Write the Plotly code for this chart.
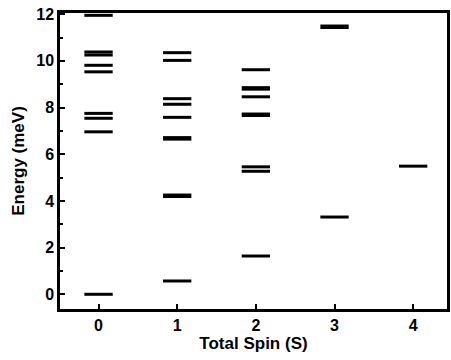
import plotly.graph_objects as go

spins = [0, 1, 2, 3, 4]
levels_s0 = [0.0, 6.96, 7.54, 7.75, 9.53, 9.81, 10.25, 10.38, 11.95]
levels_s1 = [0.57, 4.22, 6.68, 7.58, 8.14, 8.38, 10.02, 10.35]
levels_s2 = [1.64, 5.27, 5.46, 7.69, 8.46, 8.82, 9.62]
levels_s3 = [3.31, 11.46]
levels_s4 = [5.49]
all_levels = [levels_s0, levels_s1, levels_s2, levels_s3, levels_s4]
thick_levels = {(1, 4.22), (1, 6.68), (2, 7.69), (2, 8.82), (3, 11.46)}

half_w = 0.18
fig = go.Figure()
for s, lv in zip(spins, all_levels):
    for e in lv:
        w = 4.5 if (s, e) in thick_levels else 3
        fig.add_trace(go.Scatter(x=[s - half_w, s + half_w], y=[e, e], mode="lines",
                                 line=dict(color="black", width=w), showlegend=False,
                                 hoverinfo="skip"))

font = dict(family="Liberation Sans, Arial, sans-serif", size=16, color="black")
fig.update_layout(
    width=451, height=360, margin=dict(l=60, r=1, t=13, b=51),
    plot_bgcolor="white", paper_bgcolor="white", showlegend=False,
    font=font,
)
fig.update_xaxes(range=[-0.49, 4.43], tickvals=spins, ticktext=[f"<b>{s}</b>" for s in spins],
                 ticks="inside", ticklen=5, tickwidth=2, tickcolor="black",
                 showline=True, linecolor="black", linewidth=2.5, mirror=True,
                 showgrid=False, zeroline=False,
                 title=dict(text="<b>Total Spin (S)</b>", standoff=0, font=dict(size=17)))
fig.update_yaxes(range=[-0.63, 12.05], tickvals=[0, 2, 4, 6, 8, 10, 12],
                 ticktext=["<b>%d</b>" % v for v in [0, 2, 4, 6, 8, 10, 12]],
                 ticks="inside", ticklen=5, tickwidth=2, tickcolor="black",
                 minor=dict(tickvals=[1, 3, 5, 7, 9, 11], ticks="inside", ticklen=3, tickwidth=2, tickcolor="black"),
                 showline=True, linecolor="black", linewidth=2.5, mirror=True,
                 showgrid=False, zeroline=False,
                 title=dict(text="<b>Energy (meV)</b>", standoff=8, font=dict(size=17)))
fig.write_html("out.html")
